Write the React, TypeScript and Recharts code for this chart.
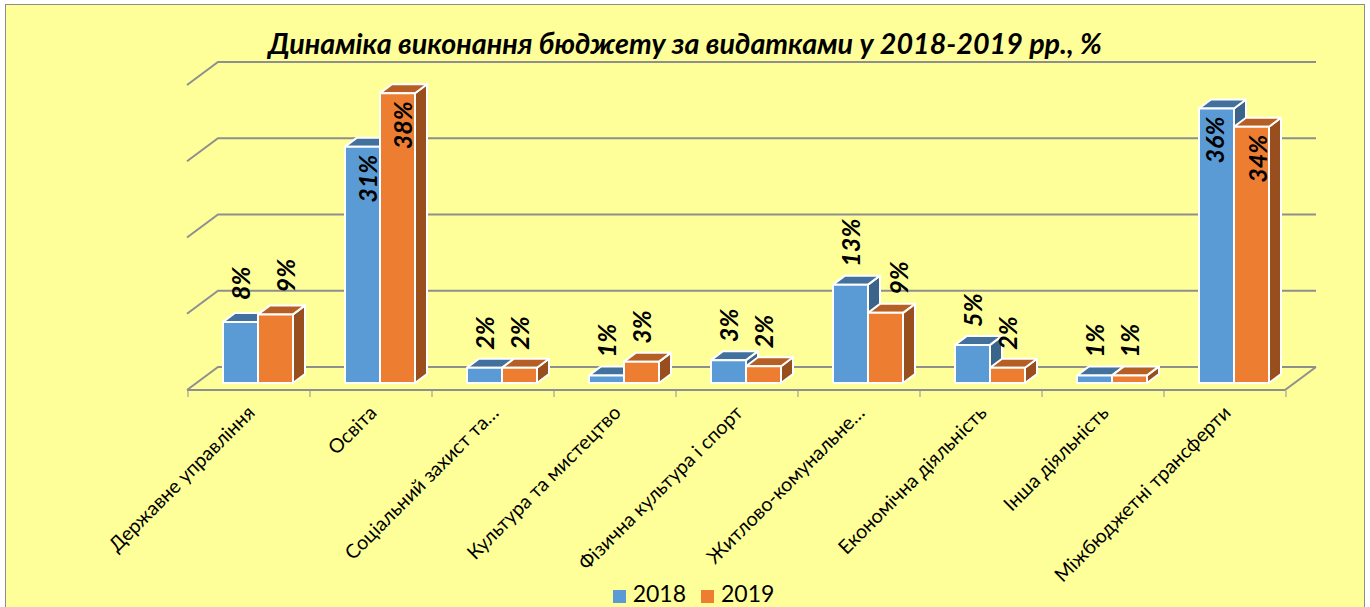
import React from "react";
import { BarChart, Bar, XAxis, YAxis, CartesianGrid, Legend, LabelList } from "recharts";

const categories = [
  "Державне управління",
  "Освіта",
  "Соціальний захист та…",
  "Культура та мистецтво",
  "Фізична культура і спорт",
  "Житлово-комунальне…",
  "Економічна діяльність",
  "Інша діяльність",
  "Міжбюджетні трансферти",
];
const values2018 = [8, 31, 2, 1, 3, 12.9, 5, 1, 36];
const values2019 = [9, 38, 2, 2.8, 2.2, 9.2, 2, 1, 33.6];
const labelNudge2018 = [-1, 4, -1, -1, -1, -1, -1, -1, -3];
const labelNudge2019 = [9, 4, -1, -1, -1, 12, -1, -1, 5];
const labelLift2018 = [4, 0, 0, 0, 0, 0, 0, 0, 0];
const labelLift2019 = [4, 0, 0, 0, 0, 0, 0, 0, 0];
const yTicks = [0, 10, 20, 30, 40];
const INSIDE_FROM = 30;

const data = categories.map((name, i) => ({ name, y2018: values2018[i], y2019: values2019[i] }));

const FONT = "Lato, Carlito, Calibri, sans-serif";
const GRID = "#8f8f8f";
const DX = 12;
const DY = 9;

function bar3D(topFill: string, sideFill: string) {
  return (p: any) => {
    const { x, y, width: w, height: h, fill } = p;
    const common = { stroke: "#ffffff", strokeWidth: 2, strokeLinejoin: "round" as const };
    return (
      <g>
        <path d={`M${x + w},${y} l${DX},${-DY} v${h} l${-DX},${DY} Z`} fill={sideFill} {...common} />
        <path d={`M${x},${y} l${DX},${-DY} h${w} l${-DX},${DY} Z`} fill={topFill} {...common} />
        <rect x={x} y={y} width={w} height={h} fill={fill} {...common} />
      </g>
    );
  };
}

function gridLine(p: any) {
  const { x1, x2, y1, index } = p;
  const line = { stroke: GRID, strokeWidth: 2, fill: "none" };
  const frontL = x1 - 10;
  const backL = x1 + 21;
  const backR = x2 + 21;
  const frontR = x2 - 10;
  return (
    <g key={`g-${index}`}>
      <path d={`M${frontL},${y1 + 7} L${backL},${y1 - 16} H${backR}`} {...line} />
      {index === 0 || Math.abs(y1 - 383) < 1 ? (
        <path d={`M${frontL},${y1 + 7} H${frontR} L${backR},${y1 - 16}`} {...line} />
      ) : null}
    </g>
  );
}

function CategoryTick(p: any) {
  const { x, y, payload, index } = p;
  const tx = x - 9;
  return (
    <g>
      <line x1={tx - 61} x2={tx - 61} y1={y + 8} y2={y + 14} stroke={GRID} strokeWidth={1} />
      {index === categories.length - 1 ? (
        <line x1={tx + 61} x2={tx + 61} y1={y + 8} y2={y + 14} stroke={GRID} strokeWidth={1} />
      ) : null}
      <text
        x={tx + 7}
        y={y + 31}
        textAnchor="end"
        transform={`rotate(-45 ${tx + 7} ${y + 31})`}
        fontFamily={FONT}
        fontSize={19.6}
        fill="#000"
      >
        {payload.value}
      </text>
    </g>
  );
}

function pctLabel(nudges: number[], lifts: number[]) {
  return (p: any) => {
    const { x, y, width, value, index } = p;
    const v = Number(value);
    const inside = v >= INSIDE_FROM;
    const cx = x + width / 2 + nudges[index];
    const cy = inside ? y + 8 : y - 18 - lifts[index];
    return (
      <text
        transform={`translate(${cx} ${cy}) rotate(-90)`}
        textAnchor={inside ? "end" : "start"}
        dominantBaseline="central"
        fontFamily={FONT}
        fontWeight={700}
        fontStyle="italic"
        fontSize={25}
        fill="#000"
      >
        {Math.round(v)}%
      </text>
    );
  };
}

export default function App() {
  return (
    <div style={{ position: "absolute", left: 0, top: 0, width: 1370, height: 607, overflow: "hidden", background: "#fff" }}>
      <div
        style={{
          position: "absolute",
          left: 5,
          top: 4,
          width: 1358,
          height: 620,
          background: "#FFFF99",
          border: "1px solid #8c8c8c",
        }}
      />
      <div
        style={{
          position: "absolute",
          left: 0,
          width: 1370,
          top: 25,
          textAlign: "center",
          fontFamily: FONT,
          fontWeight: 700,
          fontStyle: "italic",
          fontSize: 28.7,
          lineHeight: "36px",
          color: "#000",
        }}
      >
        Динаміка виконання бюджету за видатками у 2018-2019 рр., %
      </div>
      <div style={{ position: "absolute", left: 0, top: 0 }}>
        <BarChart
          width={1370}
          height={607}
          data={data}
          barSize={35}
          barGap={0}
          margin={{ left: 197, right: 75, top: 78, bottom: 44 }}
          style={{ background: "transparent" }}
        >
          <CartesianGrid vertical={false} horizontal={gridLine} />
          <XAxis dataKey="name" height={180} interval={0} axisLine={false} tickLine={false} tickSize={0} tickMargin={0} tick={CategoryTick} />
          <YAxis hide domain={[0, 40]} ticks={yTicks} width={0} />
          <Legend
            verticalAlign="middle"
            align="center"
            iconType="square"
            iconSize={13}
            wrapperStyle={{ top: 582, left: 601, width: 200, fontFamily: FONT, fontSize: 23, lineHeight: "22px", color: "#000" }}
            formatter={(v: string) => <span style={{ color: "#000", marginLeft: 3, marginRight: 5 }}>{v}</span>}
          />
          <Bar dataKey="y2018" name="2018" fill="#5B9BD5" isAnimationActive={false} shape={bar3D("#41719C", "#3A6489")}>
            <LabelList dataKey="y2018" content={pctLabel(labelNudge2018, labelLift2018)} />
          </Bar>
          <Bar dataKey="y2019" name="2019" fill="#ED7D31" isAnimationActive={false} shape={bar3D("#B55F25", "#984F1D")}>
            <LabelList dataKey="y2019" content={pctLabel(labelNudge2019, labelLift2019)} />
          </Bar>
        </BarChart>
      </div>
    </div>
  );
}
